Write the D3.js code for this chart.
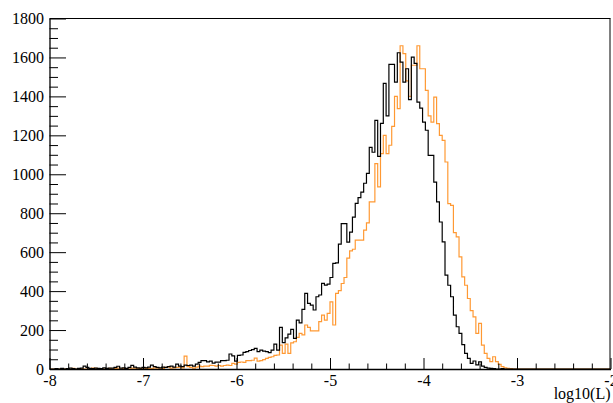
<!DOCTYPE html>
<html><head><meta charset="utf-8">
<script src="https://cdn.jsdelivr.net/npm/d3@7"></script>
<style>body{margin:0;background:#fff}svg{display:block}</style>
</head><body>
<script>
const xMin = -8, xMax = -2, binWidth = 0.03;
const xMajorTicks = [-8, -7, -6, -5, -4, -3, -2];
const yMajorTicks = [0, 200, 400, 600, 800, 1000, 1200, 1400, 1600, 1800];
const xTitle = "log10(L)";

const blackCounts = [
0,0,2,0,3,0,2,5,2,0,
3,5,15,8,3,2,5,3,2,6,
3,5,4,8,14,5,6,3,8,19,
10,6,5,8,6,10,20,12,8,6,
10,8,12,15,10,25,15,12,20,18,
20,15,25,34,43,43,37,40,30,35,
35,43,43,45,77,67,40,70,72,85,
89,95,100,106,89,97,92,89,84,97,
128,97,214,135,160,179,204,157,251,237,
306,388,337,328,303,371,380,440,431,436,
470,542,545,641,747,747,652,703,780,851,
880,908,954,1005,1138,1113,1277,1092,1261,1467,
1300,1564,1564,1473,1624,1576,1473,1542,1383,1602,
1570,1371,1340,1268,1226,1097,1097,960,858,755,
653,482,430,371,277,217,183,125,80,55,
29,41,21,37,15,8,5,3,2,0,
0,2,0,0,0,0,0,0,0,0,
0,0,0,0,0,0,0,0,0,0,
0,0,0,0,0,0,0,0,0,0,
0,0,0,0,0,0,0,0,0,0
];

const orangeCounts = [
0,0,0,0,2,0,0,0,3,0,
0,2,0,0,0,5,3,0,2,0,
0,3,0,2,5,0,3,2,0,4,
5,2,3,0,5,3,2,6,4,5,
3,8,10,5,6,8,10,6,66,12,
8,5,10,15,12,15,15,19,18,15,
18,15,18,20,18,29,25,34,36,34,
43,43,45,56,40,43,48,55,60,63,
70,72,123,80,128,80,134,140,162,183,
175,226,214,196,196,196,243,277,251,286,
345,226,388,402,439,470,569,607,615,662,
662,662,713,750,858,858,1055,935,1106,1200,
1106,1149,1246,1400,1337,1660,1620,1480,1400,1560,
1560,1660,1542,1542,1431,1300,1268,1396,1260,1200,
1174,1063,849,840,700,679,576,473,430,362,
300,268,183,234,123,80,55,38,63,38,
24,12,6,3,2,0,0,0,0,0,
0,0,0,0,0,0,0,0,0,0,
0,0,0,0,0,0,0,0,0,0,
0,0,0,0,0,0,0,0,0,0
];

(function () {
const W = 613, H = 403;
const pL = 49.5, pR = 610.5, pT = 18.5, pB = 369;
const FONT = "'Liberation Serif', 'Times New Roman', serif";

const x = d3.scaleLinear().domain([xMin, xMax]).range([pL, pR]);
const y = d3.scaleLinear().domain([0, 1800]).range([pB, pT]);

const svg = d3.select("body").append("svg").attr("width", W).attr("height", H);
svg.append("rect").attr("width", W).attr("height", H).attr("fill", "#fff");

svg.append("clipPath").attr("id", "clip").append("rect")
  .attr("x", pL).attr("y", pT).attr("width", pR - pL).attr("height", pB - pT);

function stepPoints(counts) {
  const pts = [[xMin, 0]];
  counts.forEach((c, i) => {
    const a = xMin + i * binWidth, b = a + binWidth;
    pts.push([a, c]); pts.push([b, c]);
  });
  pts.push([xMin + counts.length * binWidth, 0]);
  return pts;
}
const line = d3.line().x(d => x(d[0])).y(d => y(d[1]));

const plot = svg.append("g").attr("clip-path", "url(#clip)");
plot.append("path").attr("d", line(stepPoints(orangeCounts)))
  .attr("fill", "none").attr("stroke", "#ff9933").attr("stroke-width", 1.2);
plot.append("path").attr("d", line(stepPoints(blackCounts)))
  .attr("fill", "none").attr("stroke", "#000").attr("stroke-width", 1.2);

// frame
svg.append("line").attr("x1", pL).attr("x2", pR).attr("y1", pT).attr("y2", pT).attr("stroke", "#000");
svg.append("line").attr("x1", pR - 0.5).attr("x2", pR - 0.5).attr("y1", pT).attr("y2", pB).attr("stroke", "#000");

// Y axis
const yMinor = d3.range(0, 1801, 50).filter(v => v % 200 !== 0);
svg.append("g").attr("transform", `translate(${pL},0)`)
  .call(d3.axisLeft(y).tickValues(yMinor).tickSizeInner(-8.5).tickSizeOuter(0).tickFormat(""))
  .call(g => g.select(".domain").remove());
svg.append("g").attr("transform", `translate(${pL},0)`)
  .call(d3.axisLeft(y).tickValues(yMajorTicks).tickSizeInner(-16.5).tickSizeOuter(0).tickPadding(5.5).tickFormat(d => String(d)));

// X axis
const xMinor = d3.range(0, 31).map(i => xMin + i * 0.2).filter(v => Math.abs(v - Math.round(v)) > 1e-6);
svg.append("g").attr("transform", `translate(0,${pB})`)
  .call(d3.axisBottom(x).tickValues(xMinor).tickSizeInner(-5.5).tickSizeOuter(0).tickFormat(""))
  .call(g => g.select(".domain").remove());
svg.append("g").attr("transform", `translate(0,${pB})`)
  .call(d3.axisBottom(x).tickValues(xMajorTicks).tickSizeInner(-11).tickSizeOuter(0).tickPadding(6).tickFormat(d => String(d)));

svg.selectAll(".tick line").attr("stroke", "#000");
svg.selectAll(".domain").attr("stroke", "#000").attr("stroke-width", 1.3);
svg.selectAll(".tick text").attr("font-family", FONT).attr("font-size", 16).attr("fill", "#000");

svg.append("text").attr("x", pR).attr("y", 399).attr("text-anchor", "end")
  .attr("font-family", FONT).attr("font-size", 16).attr("fill", "#000").text(xTitle);
})();
</script>
</body></html>
